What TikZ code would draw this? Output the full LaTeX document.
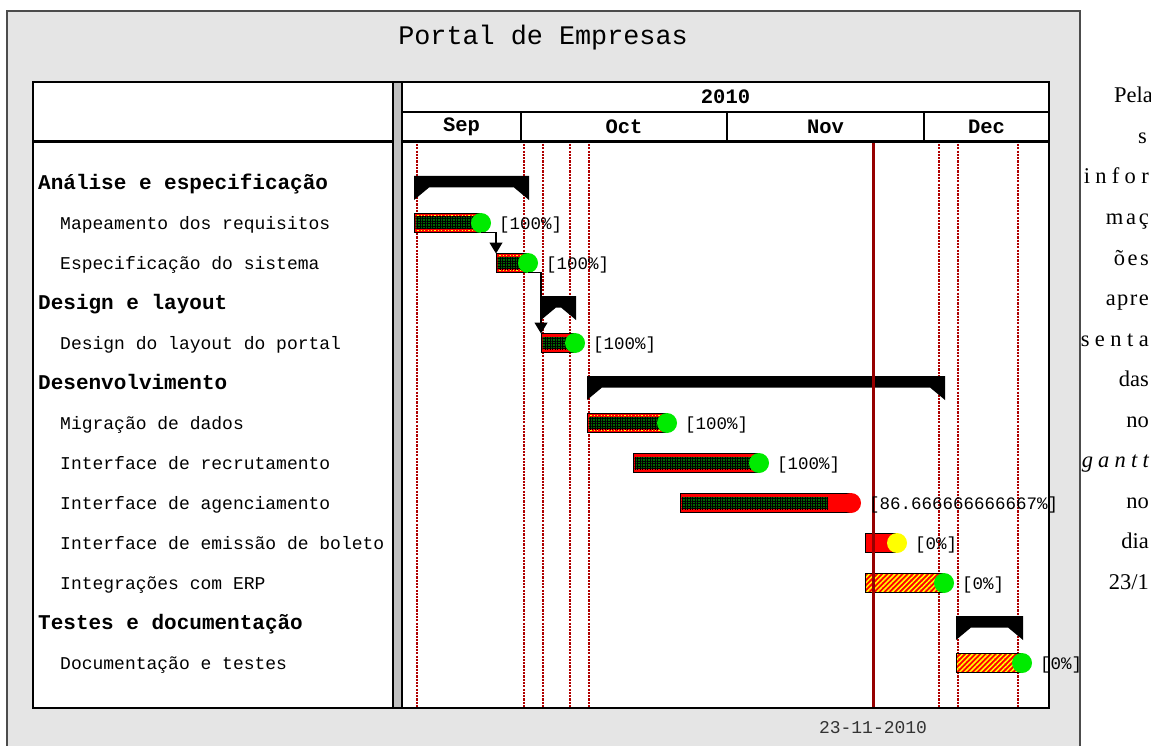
\documentclass[tikz,border=0pt]{standalone}
\usepackage{fontspec}
\setmainfont{Liberation Serif}
\setmonofont{Liberation Mono}
\usepackage{tikz}
\usepackage{xcolor}
\usetikzlibrary{positioning}
\usetikzlibrary{arrows.meta, patterns.meta}

\definecolor{framegray}{RGB}{229,229,229}
\definecolor{splitgray}{RGB}{192,192,192}
\definecolor{gridred}{RGB}{175,0,0}
\definecolor{todayred}{RGB}{150,0,0}
\definecolor{bargreen}{RGB}{0,105,0}
\definecolor{barred}{RGB}{255,0,0}
\definecolor{dotlime}{RGB}{0,235,0}
\definecolor{dotyellow}{RGB}{255,255,0}

% summary bracket of a group: x start, x end, row
\newcommand{\groupbar}[3]{%
  \fill (#1,#3-7) -- (#2,#3-7) -- (#2,#3+17) -- (#2-15,#3+4.5)
    -- (#1+15,#3+4.5) -- (#1,#3+17) -- cycle;}

% green part of a bar, #1 = length done
\newcommand{\progress}[1]{%
  \fill[bargreen] ([shift={(1.5pt,-3.5pt)}]path picture bounding box.north west)
    rectangle ([shift={(#1,3.5pt)}]path picture bounding box.south west);
  \fill[pattern={Lines[distance=2.5pt, line width=.5pt]}, pattern color=black]
    ([shift={(1.5pt,-3.5pt)}]path picture bounding box.north west)
    rectangle ([shift={(#1,3.5pt)}]path picture bounding box.south west);
  \fill[pattern={Lines[angle=90, distance=2.5pt, line width=.5pt]}, pattern color=black]
    ([shift={(1.5pt,-3.5pt)}]path picture bounding box.north west)
    rectangle ([shift={(#1,3.5pt)}]path picture bounding box.south west);}

% a word spread over a given width
\newcommand{\spreadword}[2]{\makebox[#1][s]{#2}}

\tikzset{
  grouplabel/.style={font=\ttfamily\bfseries\fontsize{21}{24}\selectfont, anchor=mid west, inner sep=0pt, yshift=-4pt},
  tasklabel/.style={font=\ttfamily\fontsize{18}{21}\selectfont, anchor=mid west, inner sep=0pt, yshift=-4pt},
  headlabel/.style={font=\ttfamily\bfseries\fontsize{20.5}{24}\selectfont, inner sep=0pt},
  pctlabel/.style={font=\ttfamily\fontsize{17.5}{20}\selectfont, inner sep=0pt, yshift=-2pt},
  sidetext/.style={font=\fontsize{22.5}{26}\selectfont, anchor=base east, inner sep=0pt},
  taskbar/.style={draw=black, line width=1pt, fill=barred, minimum height=19pt,
    inner sep=0pt, outer sep=0pt, anchor=west},
  done/.style={path picture={\progress{#1}}},
  donelit/.style={path picture={\progress{#1}
    \draw[dotyellow, line width=1.2pt, dash pattern=on 1.2pt off 2.2pt]
      ([yshift=-2pt]path picture bounding box.north west) -- ([yshift=-2pt]path picture bounding box.north east)
      ([yshift=2pt]path picture bounding box.south west) -- ([yshift=2pt]path picture bounding box.south east);}},
  hatched/.style={postaction={draw=black, line width=1pt,
    pattern={Lines[angle=45, distance=3.6pt, line width=1.5pt]}, pattern color=dotyellow}},
  enddot/.style={circle, minimum size=20pt, inner sep=0pt, outer sep=0pt},
  gridline/.style={gridred, line width=2.6pt, dash pattern=on 2.2pt off 1.1pt},
  todayline/.style={todayred, line width=3pt},
  depline/.style={line width=1.2pt, -{Triangle[length=11pt, width=13pt]}},
}

\begin{document}
\begin{tikzpicture}[x=1pt, y=-1pt]
\useasboundingbox (0,0) rectangle (1151,746);

% frame and the two panels
\draw[draw=black!70, line width=2pt, fill=framegray] (7,11) rectangle (1080,760);
\node[font=\ttfamily\fontsize{26.8}{30}\selectfont, inner sep=0pt] (title) at (543,38) {Portal de Empresas};
\draw[line width=1.5pt, fill=white] (33,82) rectangle (393,708);
\draw[line width=1.5pt, fill=splitgray] (393,82) rectangle (402,708);
\draw[line width=1.5pt, fill=white] (402,82) rectangle (1049,708);
\draw[line width=3pt] (33,142) -- (393,142) (402,142) -- (1049,142);
\draw[line width=1.5pt] (402,112) -- (1049,112) (521,112) -- (521,142)
  (727,112) -- (727,142) (924,112) -- (924,142);

% time scale
\node[headlabel] (year) at (725.5,97) {2010};
\node[headlabel] (sep) at (461.5,127) {Sep};
\node[headlabel] (oct) at (624,127) {Oct};
\node[headlabel] (nov) at (825.5,127) {Nov};
\node[headlabel] (dec) at (986.5,127) {Dec};
\node[font=\ttfamily\fontsize{18}{21}\selectfont, inner sep=0pt, text=black!80] (todaydate) at (873,728) {23-11-2010};

\draw[gridline] (417,144) -- (417,707) (524,144) -- (524,707) (543,144) -- (543,707)
  (570,144) -- (570,707) (589,144) -- (589,707) (939,144) -- (939,707)
  (958,144) -- (958,707) (1018,144) -- (1018,707);

% groups
\groupbar{414}{529}{183}
\groupbar{541}{576}{303}
\groupbar{587}{945}{383}
\groupbar{956}{1023}{623}

% tasks
\node[taskbar, minimum width=67pt, donelit=67pt] (mapeamento) at (414,223) {};
\node[taskbar, minimum width=32pt, donelit=32pt] (especificacao) at (496,263) {};
\node[taskbar, minimum width=34pt, done=34pt] (designportal) at (541,343) {};
\node[taskbar, minimum width=80pt, donelit=80pt] (migracao) at (587,423) {};
\node[taskbar, minimum width=126pt, done=126pt] (recrutamento) at (633,463) {};
\node[taskbar, minimum width=171pt, done=148pt] (agenciamento) at (680,503) {};
\node[taskbar, minimum width=32pt] (boleto) at (865,543) {};
\node[taskbar, minimum width=79pt, hatched] (erp) at (865,583) {};
\node[taskbar, minimum width=66pt, hatched] (documentacao) at (956,663) {};

\node[enddot, fill=dotlime] (mapeamentoend) at (mapeamento.east) {};
\node[enddot, fill=dotlime] (especificacaoend) at (especificacao.east) {};
\node[enddot, fill=dotlime] (designportalend) at (designportal.east) {};
\node[enddot, fill=dotlime] (migracaoend) at (migracao.east) {};
\node[enddot, fill=dotlime] (recrutamentoend) at (recrutamento.east) {};
\node[enddot, fill=barred] (agenciamentoend) at (agenciamento.east) {};
\node[enddot, fill=dotyellow] (boletoend) at (boleto.east) {};
\node[enddot, fill=dotlime] (erpend) at (erp.east) {};
\node[enddot, fill=dotlime] (documentacaoend) at (documentacao.east) {};

\draw[todayline] (873,143) -- (873,707);

\draw[depline] (mapeamento.south east) -| (especificacao.north west);
\draw[depline] (especificacao.south east) -| (designportal.north west);

\node[pctlabel, right=8pt of mapeamentoend] (mapeamentopct) {[100\%]};
\node[pctlabel, right=8pt of especificacaoend] (especificacaopct) {[100\%]};
\node[pctlabel, right=8pt of designportalend] (designportalpct) {[100\%]};
\node[pctlabel, right=8pt of migracaoend] (migracaopct) {[100\%]};
\node[pctlabel, right=8pt of recrutamentoend] (recrutamentopct) {[100\%]};
\node[pctlabel, right=8pt of agenciamentoend] (agenciamentopct) {[86.666666666667\%]};
\node[pctlabel, right=8pt of boletoend] (boletopct) {[0\%]};
\node[pctlabel, right=8pt of erpend] (erppct) {[0\%]};
\node[pctlabel, right=8pt of documentacaoend] (documentacaopct) {[0\%]};

% task names
\node[grouplabel] (analise) at (38,183) {Análise e especificação};
\node[tasklabel] (mapeamentoname) at (60,223) {Mapeamento dos requisitos};
\node[tasklabel] (especificacaoname) at (60,263) {Especificação do sistema};
\node[grouplabel] (design) at (38,303) {Design e layout};
\node[tasklabel] (designportalname) at (60,343) {Design do layout do portal};
\node[grouplabel] (desenvolvimento) at (38,383) {Desenvolvimento};
\node[tasklabel] (migracaoname) at (60,423) {Migração de dados};
\node[tasklabel] (recrutamentoname) at (60,463) {Interface de recrutamento};
\node[tasklabel] (agenciamentoname) at (60,503) {Interface de agenciamento};
\node[tasklabel] (boletoname) at (60,543) {Interface de emissão de boleto};
\node[tasklabel] (erpname) at (60,583) {Integrações com ERP};
\node[grouplabel] (testes) at (38,623) {Testes e documentação};
\node[tasklabel] (documentacaoname) at (60,663) {Documentação e testes};

% text beside the chart
\node[sidetext] (side0) at (1153,103) {Pela};
\node[sidetext] (side1) at (1147,143.5) {s};
\node[sidetext] (side2) at (1149,184) {\spreadword{65pt}{i\hfill n\hfill f\hfill o\hfill r}};
\node[sidetext] (side3) at (1149,224.5) {\spreadword{43pt}{m\hfill a\hfill ç}};
\node[sidetext] (side4) at (1149,265) {\spreadword{35pt}{õ\hfill e\hfill s}};
\node[sidetext] (side5) at (1149,305.5) {\spreadword{43pt}{a\hfill p\hfill r\hfill e}};
\node[sidetext] (side6) at (1149,346) {\spreadword{68pt}{s\hfill e\hfill n\hfill t\hfill a}};
\node[sidetext] (side7) at (1149,386.5) {das};
\node[sidetext] (side8) at (1149,427) {no};
\node[sidetext] (side9) at (1149,467.5) {\spreadword{67pt}{\itshape g\hfill a\hfill n\hfill t\hfill t}};
\node[sidetext] (side10) at (1149,508) {no};
\node[sidetext] (side11) at (1149,548.5) {dia};
\node[sidetext] (side12) at (1149,589) {23/1};

\end{tikzpicture}
\end{document}
